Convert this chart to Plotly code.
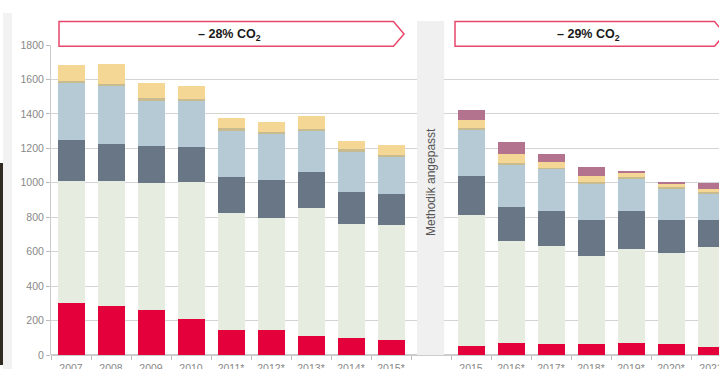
import plotly.graph_objects as go

categories = ["2007", "2008", "2009", "2010", "2011*", "2012*", "2013*", "2014*", "2015*",
              " ", "2015", "2016*", "2017*", "2018*", "2019*", "2020*", "2021"]

red    = [300, 283, 262, 207, 147, 147, 112, 99, 89, None, 54, 70, 66, 62, 67, 66, 44]
green  = [710, 725, 734, 795, 675, 649, 743, 663, 664, None, 760, 590, 569, 515, 549, 527, 584]
dark   = [240, 219, 217, 207, 209, 221, 205, 186, 183, None, 224, 200, 204, 204, 223, 188, 153]
lblue  = [330, 335, 267, 268, 275, 268, 242, 236, 217, None, 272, 246, 242, 215, 184, 188, 159]
tan    = [12, 14, 10, 11, 10, 9, 8, 10, 7, None, 6, 8, 6, 7, 8, 5, 8]
yellow = [90, 116, 89, 76, 58, 58, 77, 50, 57, None, 48, 52, 33, 35, 23, 20, 13]
mauve  = [None] * 10 + [56, 72, 50, 53, 12, 9, 39]

y_ticks = [0, 200, 400, 600, 800, 1000, 1200, 1400, 1600, 1800]

series = [
    (red, "#e4003a"),
    (green, "#e6ecdf"),
    (dark, "#687686"),
    (lblue, "#b6cad5"),
    (tan, "#c9bb90"),
    (yellow, "#f4d695"),
    (mauve, "#b3738f"),
]

W, H = 719, 369
ML, MR, MT, MB = 51, 0, 45, 14
PW = W - ML - MR
PH = H - MT - MB


def px(x):
    return (x - ML) / PW


def py(y):
    return (H - MB - y) / PH


fig = go.Figure()
for vals, col in series:
    fig.add_trace(go.Bar(x=categories, y=vals, marker=dict(color=col, line=dict(width=0)),
                         showlegend=False, hoverinfo="skip"))

shapes = []
# gap band
shapes.append(dict(type="rect", xref="x", yref="paper", x0=8.65, x1=9.33, y0=0, y1=py(21),
                   fillcolor="#f0f0f0", line=dict(width=0), layer="above"))
# arrows
acol = "#e8476b"
ax0, ax1, ax2 = px(59), px(393.5), px(404)
ay0, ay1, aym = py(21.5), py(46.3), py(33.9)
shapes.append(dict(type="path", xref="paper", yref="paper",
                   path=f"M {ax0} {ay0} L {ax1} {ay0} L {ax2} {aym} L {ax1} {ay1} L {ax0} {ay1} Z",
                   line=dict(color=acol, width=1.5), fillcolor="white", layer="above"))
bx0, bx1, bx2 = px(455), px(714.5), px(725)
shapes.append(dict(type="path", xref="paper", yref="paper",
                   path=f"M {bx0} {ay0} L {bx1} {ay0} L {bx2} {aym} L {bx1} {ay1} L {bx0} {ay1} Z",
                   line=dict(color=acol, width=1.5), fillcolor="white", layer="above"))
# left edge decoration (card shadow / background)
shapes.append(dict(type="rect", xref="paper", yref="paper", x0=px(0), x1=px(3), y0=py(365), y1=py(163),
                   fillcolor="#2f2a22", line=dict(width=0), layer="above"))
shapes.append(dict(type="rect", xref="paper", yref="paper", x0=px(3), x1=px(12), y0=py(369), y1=py(13),
                   fillcolor="rgba(0,0,0,0.05)", line=dict(width=0), layer="above"))

afont = dict(size=12.5, color="#1a1a1a", family="Liberation Sans, Arial")
annotations = [
    dict(text="<b>– 28% CO<sub>2</sub></b>", xref="paper", yref="paper", x=px(230), y=py(35),
         xanchor="center", yanchor="middle", showarrow=False, font=afont),
    dict(text="<b>– 29% CO<sub>2</sub></b>", xref="paper", yref="paper", x=px(588), y=py(35),
         xanchor="center", yanchor="middle", showarrow=False, font=afont),
    dict(text="Methodik angepasst", xref="x", yref="paper", x=9, y=py(182), textangle=-90,
         xanchor="center", yanchor="middle",
         showarrow=False, font=dict(size=12, color="#555555", family="Liberation Sans, Arial")),
]

fig.update_layout(
    width=W, height=H,
    margin=dict(l=ML, r=MR, t=MT, b=MB),
    barmode="stack", bargap=0.325,
    paper_bgcolor="white", plot_bgcolor="white",
    font=dict(family="Liberation Sans, Arial", size=10.5, color="#888888"),
    shapes=shapes, annotations=annotations,
    xaxis=dict(type="category", range=[-0.5, 16.2], tickson="boundaries", ticks="outside",
               ticklen=4, tickcolor="#bbbbbb", showgrid=False, showline=False,
               ticklabelstandoff=5, automargin=False,
               tickfont=dict(size=10.5, color="#888888"), fixedrange=True),
    yaxis=dict(range=[0, 1800], tickvals=y_ticks, ticks="outside", ticklen=4, tickcolor="#bbbbbb",
               showline=True, linecolor="#cccccc", linewidth=1, gridcolor="#d4d4d4", gridwidth=1,
               zeroline=True, zerolinecolor="#cccccc", tickfont=dict(size=10.5, color="#888888"),
               automargin=False, fixedrange=True),
)

fig.write_html("out.html")
